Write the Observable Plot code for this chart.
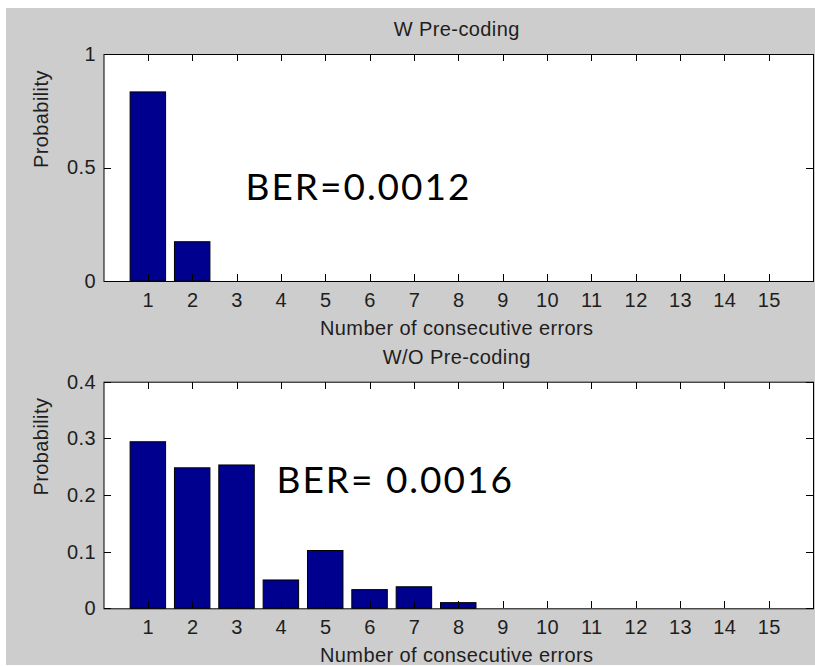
<!DOCTYPE html>
<html>
<head>
<meta charset="utf-8">
<script src="https://cdn.jsdelivr.net/npm/d3@7"></script>
<script src="https://cdn.jsdelivr.net/npm/@observablehq/plot@0.6"></script>
<style>
  html, body { margin: 0; padding: 0; background: #ffffff; }
  #page { position: relative; width: 815px; height: 666px; overflow: hidden; }
  #bg { position: absolute; left: 6px; top: 8px; width: 809px; height: 657px; background: #cdcdcd; }
  .panel { position: absolute; left: 0; }
  .panel svg { background: transparent !important; }
</style>
</head>
<body>
<div id="page">
  <div id="bg"></div>
  <div id="p1" class="panel" style="top:0px"></div>
  <div id="p2" class="panel" style="top:330px"></div>
</div>
<script>
// ---- data ----
const errorCounts = [1, 2, 3, 4, 5, 6, 7, 8, 9, 10, 11, 12, 13, 14, 15];
const probWithPrecoding    = [0.833, 0.173, 0, 0, 0, 0, 0, 0, 0, 0, 0, 0, 0, 0, 0];
const probWithoutPrecoding = [0.294, 0.248, 0.253, 0.050, 0.102, 0.033, 0.038, 0.010, 0, 0, 0, 0, 0, 0, 0];
const xTicks = [1, 2, 3, 4, 5, 6, 7, 8, 9, 10, 11, 12, 13, 14, 15];
const yTicksTop = [0, 0.5, 1];
const yTicksBottom = [0, 0.1, 0.2, 0.3, 0.4];
const titles = ["W Pre-coding", "W/O Pre-coding"];
const xLabel = "Number of consecutive errors";
const yLabel = "Probability";
const berLabels = ["BER=0.0012", "BER= 0.0016"];

// ---- drawing ----
const W = 815;
const ML = 103.5, MR = 2;
const X_DOMAIN = [0, 16];
const FONT = "'Liberation Sans', Arial, sans-serif";
const TXT = "#1e1e1e";
const TICK = 7;

function panel({values, yDomain, yTicks, title, ber, height, marginTop, marginBottom, berDx, berDy}) {
  const data = errorCounts.map((x, i) => ({x, p: values[i]}));
  const p = Plot.plot({
    width: W,
    height,
    marginLeft: ML,
    marginRight: MR,
    marginTop,
    marginBottom,
    style: {fontFamily: FONT, fontSize: "20px", color: TXT, background: "transparent", overflow: "visible"},
    x: {type: "linear", domain: X_DOMAIN},
    y: {type: "linear", domain: yDomain},
    marks: [
      Plot.frame({fill: "white"}),
      Plot.rect(data, {
        x1: d => d.x - 0.4, x2: d => d.x + 0.4,
        y1: () => 0, y2: "p",
        fill: "#00008f", stroke: "black", strokeWidth: 1
      }),
      // tick labels
      Plot.axisX(xTicks, {anchor: "bottom", tickSize: 0, tickPadding: 11, tickFormat: d => String(d), label: null, fontSize: 20, fill: TXT}),
      Plot.axisY(yTicks, {anchor: "left", tickSize: 0, tickPadding: 8, tickFormat: d => String(d), label: null, fontSize: 20, fill: TXT}),
      // title, axis labels
      Plot.text([title], {frameAnchor: "top", dx: -2, dy: -18.4, lineAnchor: "bottom", fontSize: 20, fill: TXT}),
      Plot.text([xLabel], {frameAnchor: "bottom", dx: -2, dy: 53.3, lineAnchor: "bottom", fontSize: 20, fill: TXT}),
      Plot.text([yLabel], {frameAnchor: "left", dx: -62, rotate: -90, lineAnchor: "middle", fontSize: 20, fill: TXT}),
      // annotation
      Plot.text([ber], {frameAnchor: "top-left", dx: berDx, dy: berDy, textAnchor: "start", lineAnchor: "bottom",
        fontSize: 37, fontFamily: "Lato, 'Open Sans', sans-serif", fill: "black"}),
      Plot.frame({stroke: "black", strokeWidth: 1})
    ]
  });
  d3.select(p).selectAll("text").style("letter-spacing", "0.4px");
  d3.select(p).selectAll("text").filter(function() { return this.textContent.startsWith("BER"); })
    .style("letter-spacing", "2px");

  // inward MATLAB-style ticks on all four sides, positioned with the plot's own scales
  const sx = p.scale("x"), sy = p.scale("y");
  const fx = d3.scaleLinear(sx.domain, sx.range);
  const fy = d3.scaleLinear(sy.domain, sy.range);
  const [x0, x1] = sx.range, [yB, yT] = sy.range;
  const g = d3.select(p).append("g").attr("stroke", "black").attr("stroke-width", 1).attr("shape-rendering", "crispEdges");
  for (const t of xTicks) {
    const px = Math.round(fx(t)) + 0.5;
    g.append("line").attr("x1", px).attr("x2", px).attr("y1", yB).attr("y2", yB - TICK);
    g.append("line").attr("x1", px).attr("x2", px).attr("y1", yT).attr("y2", yT + TICK);
  }
  for (const t of yTicks) {
    const py = Math.round(fy(t)) + 0.5;
    g.append("line").attr("y1", py).attr("y2", py).attr("x1", x0).attr("x2", x0 + TICK);
    g.append("line").attr("y1", py).attr("y2", py).attr("x1", x1).attr("x2", x1 - TICK);
  }
  return p;
}

document.getElementById("p1").appendChild(panel({
  values: probWithPrecoding, yDomain: [0, 1], yTicks: yTicksTop, title: titles[0], ber: berLabels[0],
  height: 330, marginTop: 54, marginBottom: 49, berDx: 141.5, berDy: 145.3
}));
document.getElementById("p2").appendChild(panel({
  values: probWithoutPrecoding, yDomain: [0, 0.4], yTicks: yTicksBottom, title: titles[1], ber: berLabels[1],
  height: 336, marginTop: 51.7, marginBottom: 57.7, berDx: 172.5, berDy: 110.6
}));
</script>
</body>
</html>
